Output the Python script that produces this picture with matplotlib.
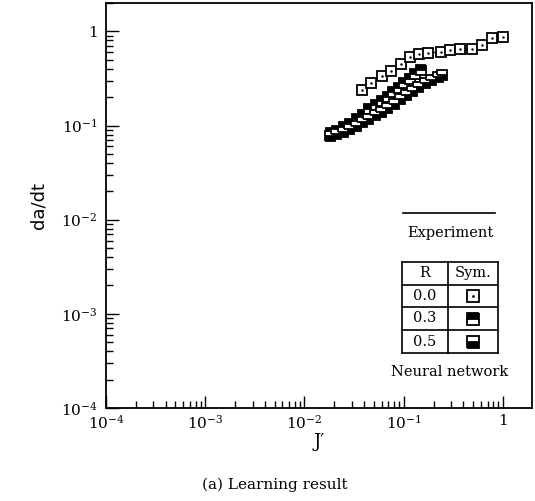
import math
import matplotlib
matplotlib.use("Agg")
import matplotlib.pyplot as plt
from matplotlib.lines import Line2D
from matplotlib.ticker import LogLocator, FuncFormatter, NullFormatter

plt.rcParams['font.family'] = ['DejaVu Serif']
plt.rcParams['mathtext.fontset'] = 'dejavuserif'

# R = 0.0
j_r00 = [0.0377, 0.0464, 0.060, 0.0745, 0.093, 0.1156, 0.1426, 0.177,
         0.237, 0.292, 0.373, 0.482, 0.614, 0.78, 1.0]
dadt_r00 = [0.236, 0.283, 0.332, 0.378, 0.446, 0.538, 0.569, 0.590,
            0.605, 0.628, 0.644, 0.656, 0.715, 0.842, 0.874]

# R = 0.3
j_r03 = [0.0185, 0.0215, 0.025, 0.029, 0.034, 0.039, 0.045, 0.052,
         0.060, 0.069, 0.078, 0.089, 0.100, 0.115, 0.130, 0.150]
dadt_r03 = [0.083, 0.088, 0.096, 0.104, 0.118, 0.130, 0.148, 0.165,
            0.180, 0.200, 0.225, 0.250, 0.280, 0.310, 0.350, 0.390]

# R = 0.5
j_r05 = [0.018, 0.021, 0.0245, 0.028, 0.033, 0.038, 0.044, 0.051, 0.059,
         0.068, 0.079, 0.091, 0.105, 0.12, 0.14, 0.165, 0.19, 0.22, 0.245]
dadt_r05 = [0.077, 0.081, 0.086, 0.092, 0.100, 0.108, 0.118, 0.130, 0.140,
            0.155, 0.170, 0.190, 0.210, 0.230, 0.255, 0.280, 0.305, 0.330, 0.345]

table_r = ['0.0', '0.3', '0.5']

W, H = 535, 501
fig = plt.figure(figsize=(W / 100, H / 100), dpi=100)
ax = fig.add_axes([106 / W, 1 - 408 / H, 426 / W, 405 / H])

ms = 7
ax.plot(j_r00, dadt_r00, '-', color='black', lw=1.0, marker='s', ms=ms,
        mfc='white', mec='black', mew=1.3)
ax.plot(j_r00, dadt_r00, '.', color='black', ms=1.5)
ax.plot(j_r03, dadt_r03, '-', color='black', lw=1.0, marker='s', ms=ms,
        fillstyle='top', mfc='black', mfcalt='white', mec='black', mew=1.3)
ax.plot(j_r05, dadt_r05, '-', color='black', lw=1.0, marker='s', ms=ms,
        fillstyle='bottom', mfc='black', mfcalt='white', mec='black', mew=1.3)

ax.set_xscale('log')
ax.set_yscale('log')
ax.set_xlim(1e-4, 1.96)
ax.set_ylim(1e-4, 2.0)


def fmt(v, pos):
    if abs(v - 1) < 1e-9:
        return '1'
    return r'$10^{%d}$' % round(math.log10(v))


for axis in (ax.xaxis, ax.yaxis):
    axis.set_major_locator(LogLocator(base=10, numticks=10))
    axis.set_minor_locator(LogLocator(base=10, subs=range(2, 10), numticks=20))
    axis.set_major_formatter(FuncFormatter(fmt))
    axis.set_minor_formatter(NullFormatter())

ax.tick_params(which='both', direction='in', top=False, right=False,
               labelsize=11, width=1.0)
ax.tick_params(which='major', length=9)
ax.tick_params(axis='x', which='major', pad=4)
ax.tick_params(axis='y', which='major', pad=6)
ax.tick_params(which='minor', length=5)
for s in ax.spines.values():
    s.set_linewidth(1.3)

ax.set_xlabel("J\u2032", fontsize=13, labelpad=1)
ax.set_ylabel("da/dt", fontsize=13, family='DejaVu Sans', labelpad=10)


def fx(px):
    return px / W


def fy(py):
    return 1 - py / H


# legend: experiment line
fig.add_artist(Line2D([fx(403), fx(495)], [fy(213), fy(213)], color='black', lw=1.2))
fig.text(fx(450), fy(233), "Experiment", ha='center', va='center', fontsize=10.5)

# legend: symbol table
tl, tm, tr = 402, 448, 498
rows = [262, 284.5, 307, 330, 353]
for r in rows:
    fig.add_artist(Line2D([fx(tl), fx(tr)], [fy(r), fy(r)], color='black', lw=1.2))
for c in (tl, tm, tr):
    fig.add_artist(Line2D([fx(c), fx(c)], [fy(rows[0]), fy(rows[-1])], color='black', lw=1.2))
fig.text(fx((tl + tm) / 2), fy((rows[0] + rows[1]) / 2), "R", ha='center', va='center', fontsize=10.5)
fig.text(fx((tm + tr) / 2), fy((rows[0] + rows[1]) / 2), "Sym.", ha='center', va='center', fontsize=10.5)
styles = [dict(mfc='white', fillstyle='full'),
          dict(mfc='black', mfcalt='white', fillstyle='top'),
          dict(mfc='black', mfcalt='white', fillstyle='bottom')]
for i, lab in enumerate(table_r):
    yc = (rows[i + 1] + rows[i + 2]) / 2
    fig.text(fx((tl + tm) / 2), fy(yc), lab, ha='center', va='center', fontsize=10.5)
    fig.add_artist(Line2D([fx((tm + tr) / 2)], [fy(yc)], marker='s', ms=9,
                          mec='black', mew=1.3, ls='none', **styles[i]))
    if i == 0:
        fig.add_artist(Line2D([fx((tm + tr) / 2)], [fy(yc)], marker='.', ms=2,
                              color='black', ls='none'))
fig.text(fx(450), fy(372), "Neural network", ha='center', va='center', fontsize=10.5)

fig.text(fx(275), fy(485), "(a) Learning result", ha='center', va='center', fontsize=11)

fig.savefig("out.png", dpi=100)
